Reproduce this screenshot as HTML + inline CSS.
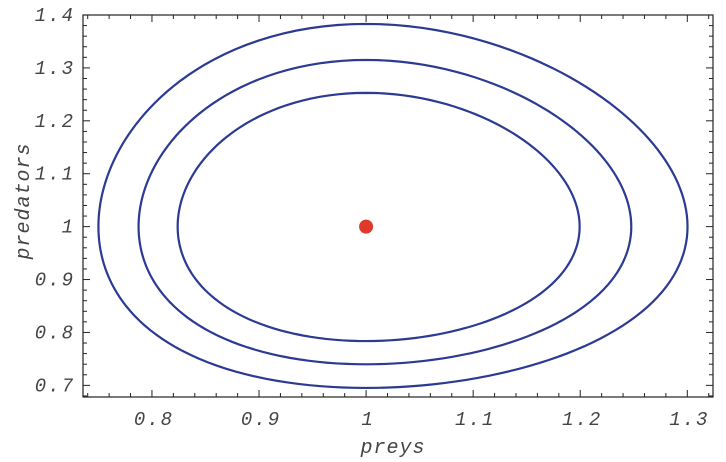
<!DOCTYPE html>
<html><head><meta charset="utf-8"><style>
html,body{margin:0;padding:0;background:#fff;}
svg{display:block;}
text{font-family:"Liberation Mono",monospace;font-style:italic;fill:#444;}
.tick{letter-spacing:2px;}
.title{letter-spacing:1px;}
</style></head><body>
<svg id="chart" width="726" height="462"></svg>
<script>
const xTicks=[0.8,0.9,1,1.1,1.2,1.3];
const xTickLabels=["0.8","0.9","1","1.1","1.2","1.3"];
const yTicks=[0.7,0.8,0.9,1,1.1,1.2,1.3,1.4];
const yTickLabels=["0.7","0.8","0.9","1","1.1","1.2","1.3","1.4"];
const orbitXMin=[0.824,0.7875,0.75];
const equilibrium=[1,1];
const predatorWeight=0.641;

const NS="http://www.w3.org/2000/svg";
const svg=document.getElementById('chart');
const L=83,R=713,T=15,B=397;
const xDom=[0.7356,1.324],yDom=[0.678,1.4];
function sx(v){return L+(v-xDom[0])/(xDom[1]-xDom[0])*(R-L);}
function sy(v){return B-(v-yDom[0])/(yDom[1]-yDom[0])*(B-T);}
function mk(tag,attrs){const e=document.createElementNS(NS,tag);for(const k in attrs)e.setAttribute(k,attrs[k]);svg.appendChild(e);return e;}
function G(v){return v-Math.log(v)-1;}

const frame=mk('rect',{x:L,y:T,width:R-L,height:B-T,fill:'none',stroke:'#222','stroke-width':1.2});



for(let i=0;i<=40;i++){
  const v=Math.round((0.74+i*0.02)*100)/100;
  if(v<xDom[0]||v>xDom[1])continue;
  const major=Math.abs(v*10-Math.round(v*10))<1e-6;
  const len=major?7:4;const x=sx(v);
  const t1=mk('line',{x1:x,y1:B,x2:x,y2:B-len,stroke:'#222','stroke-width':1});
  
  
  const t2=mk('line',{x1:x,y1:T,x2:x,y2:T+len,stroke:'#222','stroke-width':1});
  
  
}
for(let i=0;i<=40;i++){
  const v=Math.round((0.68+i*0.02)*100)/100;
  if(v<yDom[0]||v>yDom[1]+1e-9)continue;
  const major=Math.abs(v*10-Math.round(v*10))<1e-6;
  const len=major?7:4;const y=sy(v);
  const t1=mk('line',{x1:L,y1:y,x2:L+len,y2:y,stroke:'#222','stroke-width':1});
  
  
  const t2=mk('line',{x1:R,y1:y,x2:R-len,y2:y,stroke:'#222','stroke-width':1});
  
  
}
xTicks.forEach((v,i)=>{
  const t=mk('text',{x:sx(v)+2,y:425,'text-anchor':'middle','font-size':19,'class':'tick'});
  t.textContent=xTickLabels[i];
  
  
});
yTicks.forEach((v,i)=>{
  const t=mk('text',{x:75,y:sy(v)+6,'text-anchor':'end','font-size':19,'class':'tick'});
  t.textContent=yTickLabels[i];
  
  
});
const xt=mk('text',{x:393,y:453,'text-anchor':'middle','font-size':20,'class':'title'});
xt.textContent='preys';


const yt=mk('text',{x:0,y:0,'text-anchor':'middle','font-size':20,'class':'title',transform:'translate(29,201) rotate(-90)'});
yt.textContent='predators';



orbitXMin.forEach((xm,idx)=>{
  const c=G(xm);
  let d='';
  for(let a=0;a<=360;a+=2){
    const th=a*Math.PI/180;const dx=Math.cos(th),dy=Math.sin(th);
    let lo=0,hi=0.99;
    for(let it=0;it<50;it++){
      const r=(lo+hi)/2;
      const px=equilibrium[0]+r*dx*0.5,py=equilibrium[1]+r*dy*0.5;
      const f=G(px)+predatorWeight*G(py);
      if(f>c)hi=r;else lo=r;
    }
    const r=(lo+hi)/2;
    const px=equilibrium[0]+r*dx*0.5,py=equilibrium[1]+r*dy*0.5;
    d+=(a===0?'M':'L')+sx(px).toFixed(2)+','+sy(py).toFixed(2);
  }
  const p=mk('path',{d:d+'Z',fill:'none',stroke:'#2b3a92','stroke-width':2.2});
  
  
});
const dot=mk('circle',{cx:sx(equilibrium[0]),cy:sy(equilibrium[1]),r:7,fill:'#e0392b'});


</script>
</body></html>
